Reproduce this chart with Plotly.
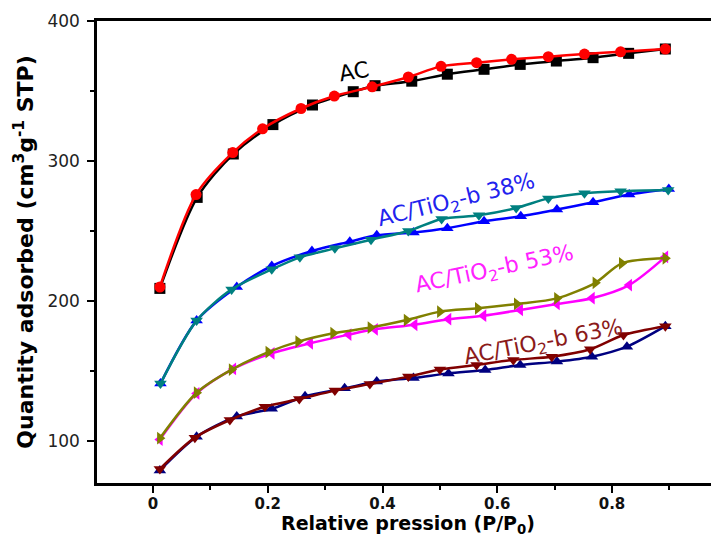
import plotly.graph_objects as go

# ---- data ----
ac_ads_x = [0.012, 0.077, 0.140, 0.209, 0.278, 0.349, 0.387, 0.451, 0.513, 0.577, 0.640, 0.703, 0.767, 0.829, 0.893]
ac_ads_y = [209, 274, 305, 326, 340, 349.5, 353.8, 357, 362, 365.5, 369, 371.4, 373.8, 376.9, 380]
ac_des_x = [0.012, 0.075, 0.139, 0.191, 0.258, 0.316, 0.382, 0.445, 0.502, 0.564, 0.625, 0.689, 0.752, 0.815, 0.893]
ac_des_y = [210, 276, 306, 323, 337.5, 346.4, 353, 360, 367.6, 370.2, 372.6, 374.5, 376.4, 378, 380]

b38_ads_x = [0.013, 0.076, 0.146, 0.207, 0.277, 0.343, 0.390, 0.454, 0.513, 0.577, 0.641, 0.704, 0.767, 0.830, 0.899]
b38_ads_y = [141, 186, 210, 225, 235.7, 242.4, 247, 249, 252, 257, 260.5, 265.3, 270.5, 276, 280]
b38_des_x = [0.013, 0.076, 0.137, 0.207, 0.256, 0.317, 0.380, 0.445, 0.503, 0.568, 0.633, 0.689, 0.752, 0.815, 0.898]
b38_des_y = [141, 186, 208.3, 222.6, 231.2, 237.6, 243.8, 250, 258.6, 261.2, 266.4, 273.3, 277, 278.4, 279.2]

b53_ads_x = [0.012, 0.076, 0.140, 0.207, 0.274, 0.341, 0.387, 0.456, 0.515, 0.576, 0.640, 0.704, 0.765, 0.830, 0.893]
b53_ads_y = [101, 134, 151.5, 162.6, 169.8, 176, 179.8, 183, 187, 189.5, 193.6, 197.9, 202, 211.4, 231.5]
b53_des_x = [0.012, 0.076, 0.137, 0.201, 0.253, 0.314, 0.379, 0.442, 0.500, 0.566, 0.634, 0.704, 0.771, 0.817, 0.893]
b53_des_y = [102, 134.5, 151, 163.5, 171, 177, 181, 186.4, 192.4, 194.8, 197.9, 201.9, 213, 226.9, 230.5]

b63_ads_x = [0.012, 0.076, 0.146, 0.207, 0.265, 0.334, 0.390, 0.454, 0.515, 0.579, 0.640, 0.704, 0.765, 0.826, 0.893]
b63_ads_y = [79, 103, 117.5, 123, 132, 137.6, 142.5, 145, 148.3, 150.7, 154.3, 156.7, 160.2, 167.4, 182]
b63_des_x = [0.012, 0.073, 0.134, 0.195, 0.255, 0.317, 0.378, 0.445, 0.500, 0.564, 0.628, 0.695, 0.762, 0.820, 0.893]
b63_des_y = [80, 102.4, 115, 124.5, 130, 136, 140.7, 146, 151, 154.3, 157.9, 160.2, 165.5, 175.7, 182]

series = [
    ("AC adsorption", ac_ads_x, ac_ads_y, "#000000", "square"),
    ("AC desorption", ac_des_x, ac_des_y, "#FF0000", "circle"),
    ("AC/TiO2-b 38% adsorption", b38_ads_x, b38_ads_y, "#0000FF", "triangle-up"),
    ("AC/TiO2-b 38% desorption", b38_des_x, b38_des_y, "#008080", "triangle-down"),
    ("AC/TiO2-b 53% adsorption", b53_ads_x, b53_ads_y, "#FF00FF", "triangle-left"),
    ("AC/TiO2-b 53% desorption", b53_des_x, b53_des_y, "#808000", "triangle-right"),
    ("AC/TiO2-b 63% adsorption", b63_ads_x, b63_ads_y, "#000080", "triangle-up"),
    ("AC/TiO2-b 63% desorption", b63_des_x, b63_des_y, "#800000", "triangle-down"),
]

labels = [
    ("AC", 0.350, 364, "#000000", -10),
    ("AC/TiO<sub>2</sub>-b 38%", 0.529, 271, "#2222EE", -14),
    ("AC/TiO<sub>2</sub>-b 53%", 0.595, 222, "#FF22FF", -12),
    ("AC/TiO<sub>2</sub>-b 63%", 0.680, 170, "#8B1A1A", -11),
]

fig = go.Figure()
for name, xs, ys, col, sym in series:
    fig.add_trace(go.Scatter(
        x=xs, y=ys, name=name, mode="lines+markers",
        line=dict(color=col, width=2.5, shape="spline", smoothing=0.8),
        marker=dict(color=col, symbol=sym, size=11),
        showlegend=False,
    ))

for txt, lx, ly, col, ang in labels:
    fig.add_annotation(x=lx, y=ly, xref="x", yref="y", text=txt, showarrow=False,
                       textangle=ang, font=dict(family="DejaVu Sans", size=22, color=col))

# the page body adds an 8px offset, so the figure is 8px smaller and margins compensate
fig.update_layout(
    width=711, height=529,
    margin=dict(l=89, r=0, t=13, b=54),
    plot_bgcolor="white", paper_bgcolor="white",
    font=dict(family="DejaVu Sans", color="#000000"),
)
fig.update_xaxes(
    range=[-0.0976, 0.9865], tick0=0, dtick=0.2,
    showgrid=False, zeroline=False,
    showline=True, linecolor="black", linewidth=2.5, mirror=True,
    ticks="outside", ticklen=7, tickwidth=2, tickcolor="black",
    minor=dict(dtick=0.1, tick0=0, ticks="outside", ticklen=4, tickwidth=1.5, tickcolor="black"),
    tickfont=dict(family="DejaVu Sans", size=15, color="#111111", weight="bold"),
    ticklabelstandoff=-2,
    tickformat="~g",
    title=dict(text="Relative pression (P/P<sub>0</sub>)", standoff=5,
               font=dict(family="DejaVu Sans", size=19, color="black", weight="bold")),
)
fig.update_yaxes(
    range=[70, 400], tick0=0, dtick=100,
    showgrid=False, zeroline=False,
    showline=True, linecolor="black", linewidth=2.5,
    ticks="outside", ticklen=7, tickwidth=2, tickcolor="black",
    minor=dict(dtick=50, tick0=0, ticks="outside", ticklen=4, tickwidth=1.5, tickcolor="black"),
    tickfont=dict(family="DejaVu Sans", size=17, color="#222222"),
    ticklabelstandoff=4,
    title=dict(text="Quantity adsorbed (cm<sup>3</sup>g<sup>-1</sup> STP)", standoff=8,
               font=dict(family="DejaVu Sans", size=22, color="black", weight="bold")),
)

fig.write_html("out.html")
